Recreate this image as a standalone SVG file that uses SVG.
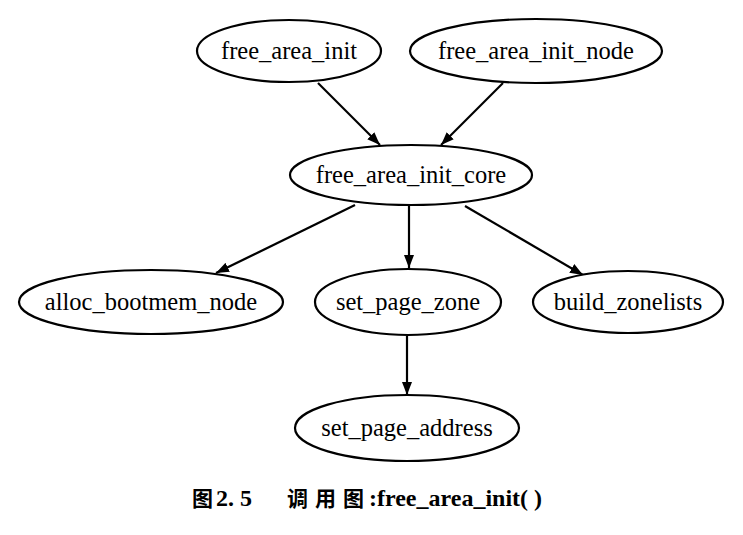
<svg xmlns="http://www.w3.org/2000/svg" width="743" height="535" viewBox="0 0 743 535">
<defs>
<marker id="arrow" markerUnits="userSpaceOnUse" markerWidth="14" markerHeight="10" refX="13" refY="5" orient="auto">
<path d="M0,0 L13,5 L0,10 Z" fill="#000"/>
</marker>
<style>
.node ellipse{fill:#fff;stroke:#000;stroke-width:2.2}
.node text{font-family:"Liberation Serif","Times New Roman",serif;font-size:24.5px;text-anchor:middle;fill:#000}
.edge{stroke:#000;stroke-width:2.2;fill:none;marker-end:url(#arrow)}
.cap{font-family:"Liberation Serif","Noto Sans CJK SC",serif;font-size:24px;font-weight:bold;fill:#000}
.cjk{font-family:"Noto Sans CJK SC",sans-serif;font-size:21px}
</style>
</defs>
<rect width="743" height="535" fill="#fff"/>
<g id="connectors">
<line class="edge" x1="318" y1="83" x2="380" y2="145"/>
<line class="edge" x1="503" y1="83" x2="441" y2="145"/>
<line class="edge" x1="355" y1="205" x2="216" y2="273"/>
<line class="edge" x1="409" y1="206" x2="409" y2="268"/>
<line class="edge" x1="465" y1="206" x2="583" y2="275"/>
<line class="edge" x1="407" y1="336" x2="407" y2="395"/>
</g>
<g id="free_area_init" class="node">
<ellipse cx="289" cy="51" rx="92" ry="31"/>
<text x="289" y="59">free_area_init</text>
</g>
<g id="free_area_init_node" class="node">
<ellipse cx="536" cy="51" rx="126" ry="32"/>
<text x="536" y="59">free_area_init_node</text>
</g>
<g id="free_area_init_core" class="node">
<ellipse cx="411" cy="175" rx="121" ry="30"/>
<text x="411" y="183">free_area_init_core</text>
</g>
<g id="alloc_bootmem_node" class="node">
<ellipse cx="151" cy="302" rx="132" ry="32"/>
<text x="151" y="310">alloc_bootmem_node</text>
</g>
<g id="set_page_zone" class="node">
<ellipse cx="408" cy="302" rx="93" ry="33"/>
<text x="408" y="310">set_page_zone</text>
</g>
<g id="build_zonelists" class="node">
<ellipse cx="628" cy="302" rx="95" ry="31"/>
<text x="628" y="310">build_zonelists</text>
</g>
<g id="set_page_address" class="node">
<ellipse cx="407" cy="428" rx="112" ry="33"/>
<text x="407" y="436">set_page_address</text>
</g>
<g id="caption">
<text class="cap" y="506"><tspan x="192" class="cjk">图</tspan><tspan x="216">2. 5</tspan><tspan x="287" class="cjk" letter-spacing="7">调用图</tspan><tspan x="369">:free_area_init( )</tspan></text>
</g>
</svg>
